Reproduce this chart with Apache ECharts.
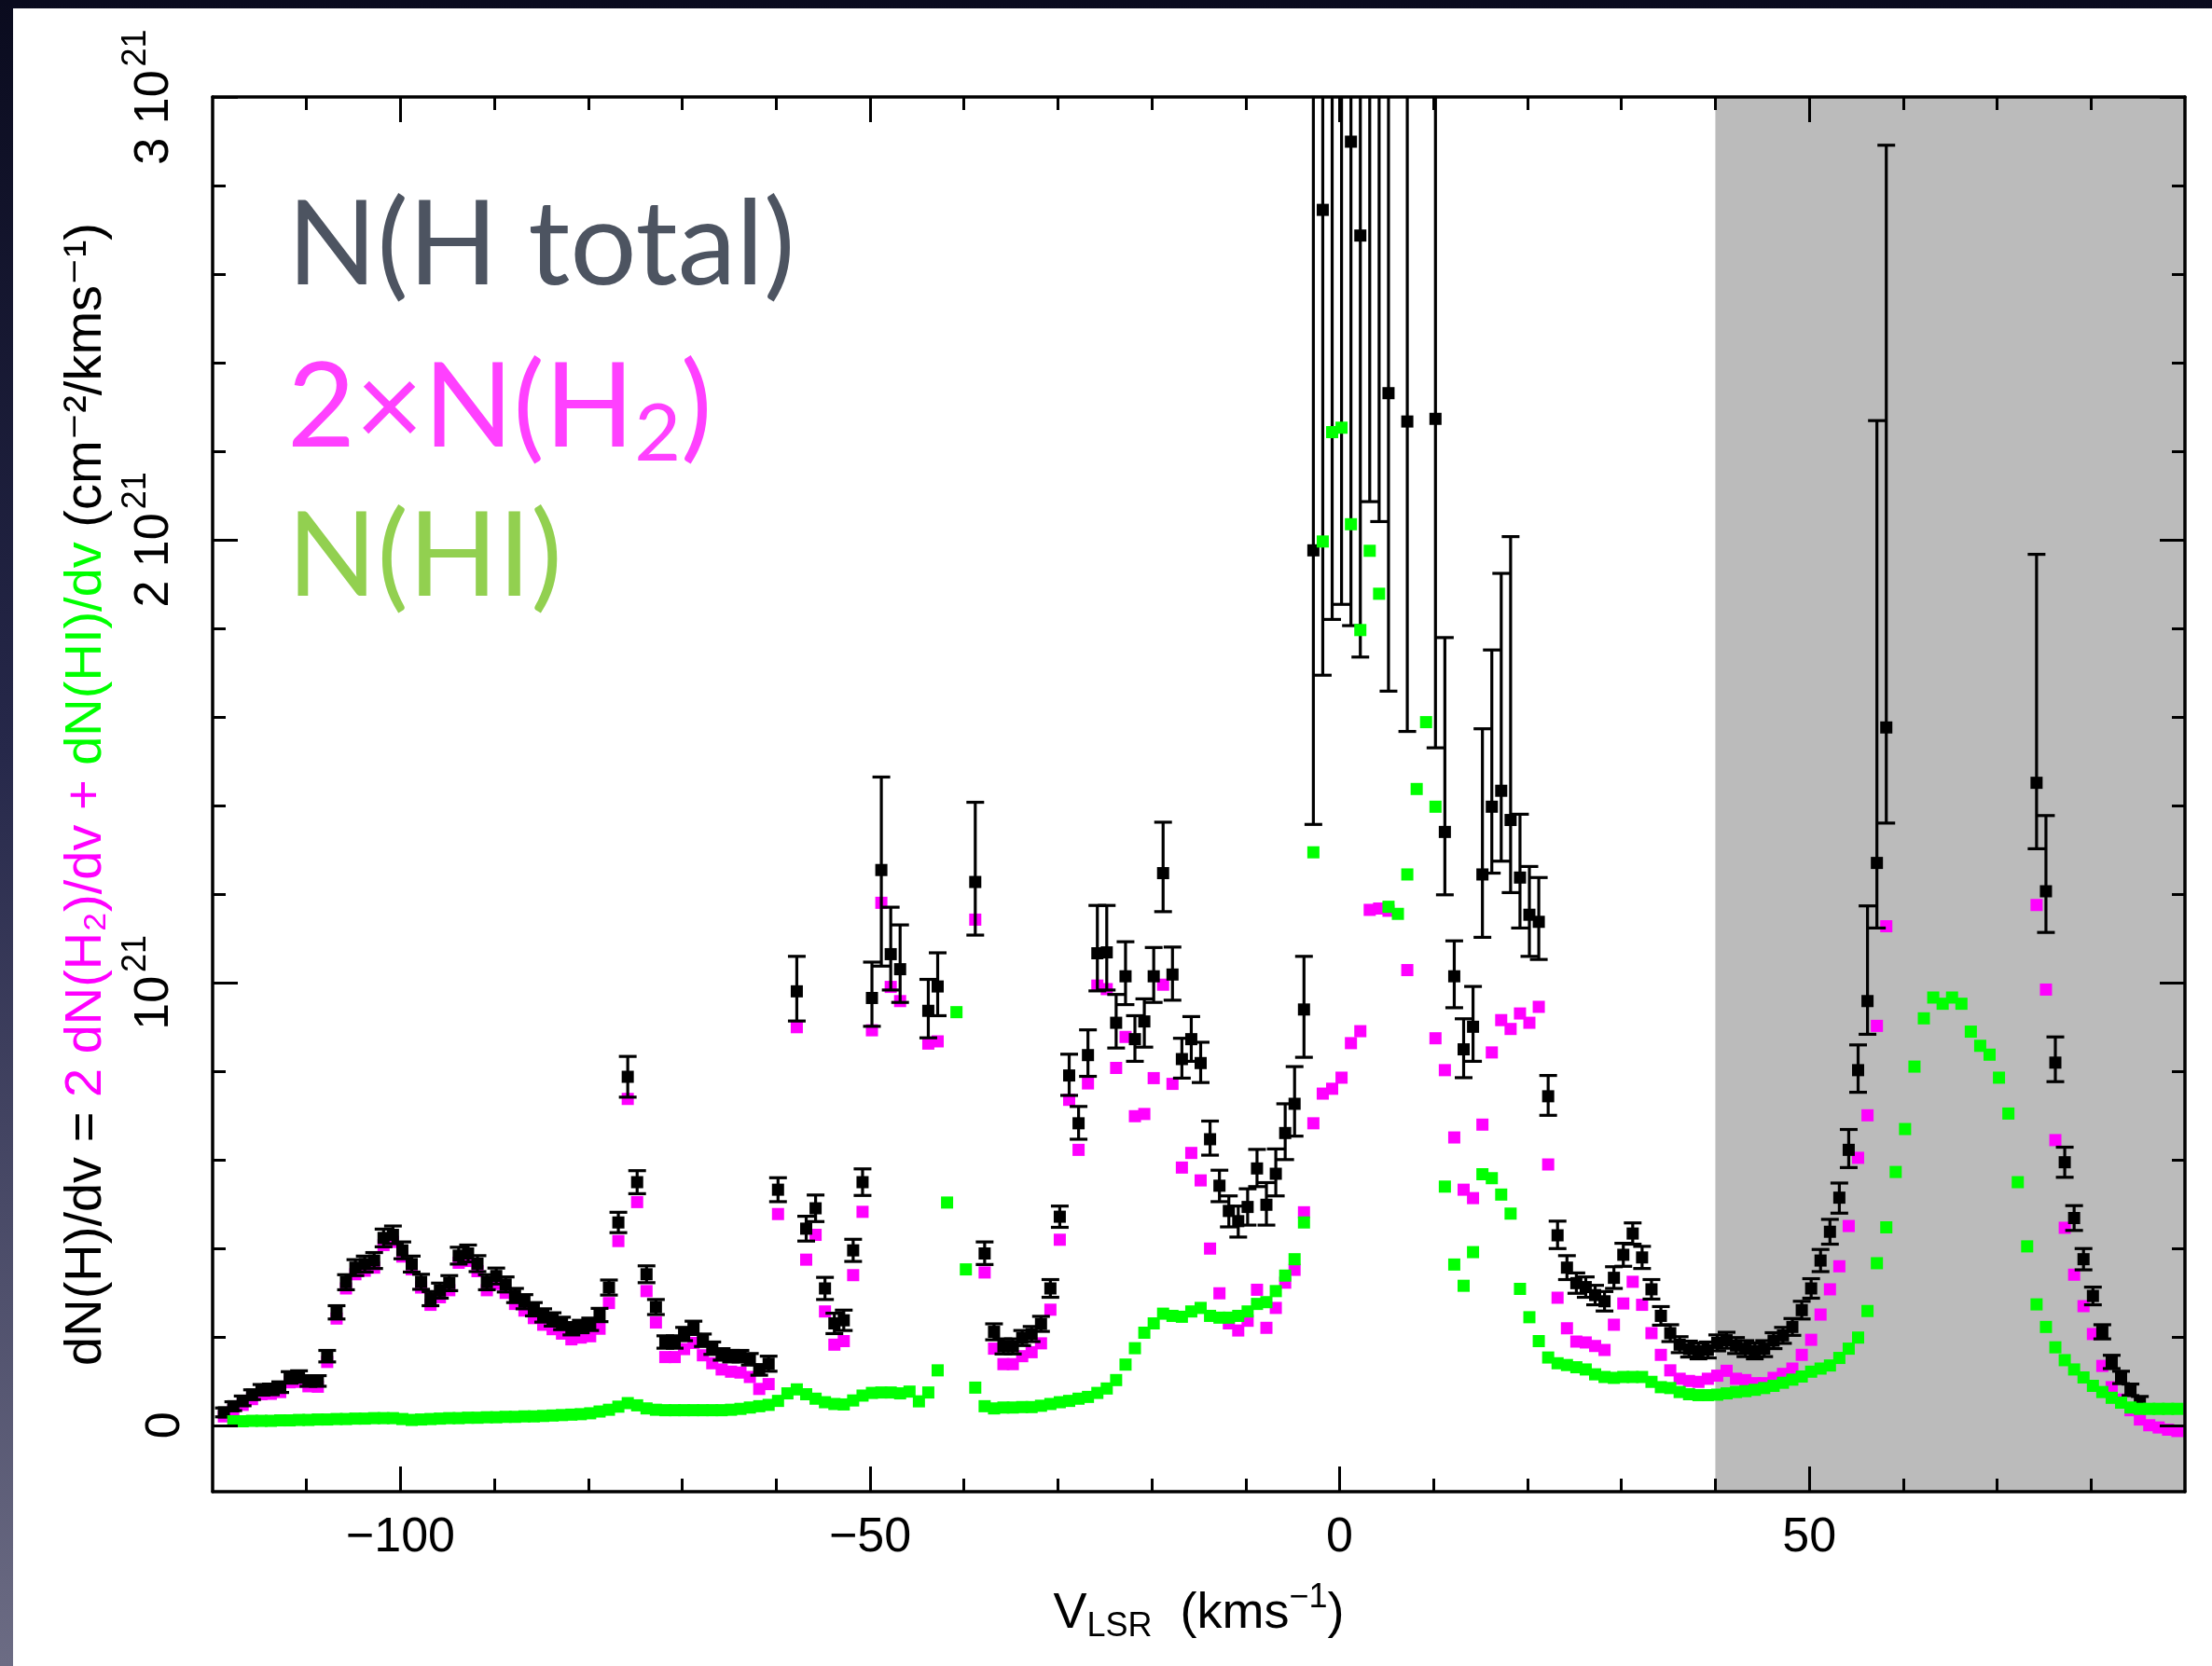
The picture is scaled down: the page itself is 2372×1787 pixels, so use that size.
<!DOCTYPE html>
<html><head><meta charset="utf-8">
<script src="https://cdn.jsdelivr.net/npm/echarts@6/dist/echarts.min.js"></script>
<style>
html,body{margin:0;padding:0;width:2372px;height:1787px;overflow:hidden;}
body{background:linear-gradient(180deg,#0a0b1e 0%,#26284a 45%,#6c6c84 100%);}
#panel{position:absolute;left:14px;top:9px;right:0;bottom:0;background:#ffffff;}
#chart{position:absolute;left:0;top:0;width:2372px;height:1787px;}
</style></head><body><div id="panel"></div><div id="chart"></div>
<script>
// Velocity channels (km/s)
const VEL = [
-118.8,-117.8,-116.8,-115.8,-114.8,-113.8,-112.8,-111.8,-110.8,-109.8,
-108.8,-107.8,-106.8,-105.8,-104.8,-103.8,-102.8,-101.8,-100.8,-99.8,
-98.8,-97.8,-96.8,-95.8,-94.8,-93.8,-92.8,-91.8,-90.8,-89.8,
-88.8,-87.8,-86.8,-85.8,-84.8,-83.8,-82.8,-81.8,-80.8,-79.8,
-78.8,-77.8,-76.8,-75.8,-74.8,-73.8,-72.8,-71.8,-70.8,-69.8,
-68.8,-67.8,-66.8,-65.8,-64.8,-63.8,-62.8,-61.8,-60.8,-59.8,
-58.8,-57.8,-56.8,-55.8,-54.8,-53.8,-52.8,-51.8,-50.8,-49.8,
-48.8,-47.8,-46.8,-45.8,-44.8,-43.8,-42.8,-41.8,-40.8,-39.8,
-38.8,-37.8,-36.8,-35.8,-34.8,-33.8,-32.8,-31.8,-30.8,-29.8,
-28.8,-27.8,-26.8,-25.8,-24.8,-23.8,-22.8,-21.8,-20.8,-19.8,
-18.8,-17.8,-16.8,-15.8,-14.8,-13.8,-12.8,-11.8,-10.8,-9.8,
-8.8,-7.8,-6.8,-5.8,-4.8,-3.8,-2.8,-1.8,-0.8,0.2,
1.2,2.2,3.2,4.2,5.2,6.2,7.2,8.2,9.2,10.2,
11.2,12.2,13.2,14.2,15.2,16.2,17.2,18.2,19.2,20.2,
21.2,22.2,23.2,24.2,25.2,26.2,27.2,28.2,29.2,30.2,
31.2,32.2,33.2,34.2,35.2,36.2,37.2,38.2,39.2,40.2,
41.2,42.2,43.2,44.2,45.2,46.2,47.2,48.2,49.2,50.2,
51.2,52.2,53.2,54.2,55.2,56.2,57.2,58.2,59.2,60.2,
61.2,62.2,63.2,64.2,65.2,66.2,67.2,68.2,69.2,70.2,
71.2,72.2,73.2,74.2,75.2,76.2,77.2,78.2,79.2,80.2,
81.2,82.2,83.2,84.2,85.2,86.2,87.2,88.2,89.2
];
// dN(H)/dv total, units of 1e21 cm^-2/(km/s)
const N_TOTAL = [
0.029,0.043,0.055,0.069,0.080,0.081,0.086,0.108,0.110,0.100,
0.100,0.156,0.255,0.323,0.356,0.364,0.372,0.423,0.430,0.395,
0.364,0.324,0.286,0.304,0.321,0.383,0.388,0.365,0.323,0.337,
0.318,0.293,0.279,0.262,0.248,0.239,0.230,0.218,0.223,0.228,
0.249,0.311,0.458,0.787,0.549,0.341,0.267,0.188,0.188,0.206,
0.220,0.192,0.174,0.160,0.156,0.156,0.149,0.125,0.139,0.532,
null,0.980,0.444,0.490,0.309,0.230,0.237,0.395,0.549,0.965,
1.254,1.064,1.030,null,null,0.936,0.991,null,null,null,
1.227,0.388,0.211,0.178,0.178,0.197,0.206,0.229,0.309,0.471,
0.790,0.682,0.836,1.066,1.068,0.909,1.014,0.872,0.912,1.014,
1.247,1.018,0.827,0.872,0.818,0.646,0.541,0.484,0.461,0.493,
0.580,0.498,0.568,0.660,0.726,0.939,1.976,2.745,3.003,3.038,
2.899,2.687,3.139,3.045,2.331,null,2.267,null,null,2.273,
1.340,1.014,0.849,0.900,1.244,1.397,1.433,1.367,1.237,1.153,
1.137,0.743,0.429,0.356,0.321,0.312,0.294,0.280,0.333,0.385,
0.433,0.379,0.307,0.247,0.208,0.182,0.172,0.168,0.170,0.186,
0.192,0.180,0.173,0.168,0.173,0.191,0.203,0.222,0.260,0.309,
0.372,0.437,0.514,0.622,0.802,0.958,1.270,1.576,null,null,
null,null,null,null,null,null,null,null,null,null,
null,null,null,1.451,1.206,0.819,0.594,0.468,0.375,0.292,
0.211,0.143,0.108,0.080,0.053,null,null,null,null
];
// 2 dN(H2)/dv
const N_H2X2 = [
0.020,0.034,0.046,0.059,0.070,0.071,0.075,0.097,0.098,0.088,
0.087,0.143,0.241,0.309,0.341,0.349,0.356,0.407,0.414,0.381,
0.352,0.311,0.272,0.289,0.305,0.367,0.371,0.348,0.305,0.319,
0.299,0.274,0.259,0.242,0.227,0.217,0.207,0.194,0.198,0.201,
0.218,0.276,0.416,0.737,0.504,0.303,0.232,0.154,0.154,0.172,
0.186,0.158,0.140,0.126,0.121,0.119,0.109,0.082,0.093,0.477,
null,0.899,0.374,0.430,0.257,0.182,0.190,0.339,0.482,0.892,
1.180,0.990,0.958,null,null,0.862,0.867,null,null,null,
1.142,0.345,0.173,0.138,0.138,0.156,0.165,0.185,0.261,0.419,
0.735,0.622,0.772,0.993,0.985,0.807,0.877,0.698,0.703,0.784,
0.995,0.771,0.582,0.615,0.553,0.399,0.298,0.230,0.214,0.236,
0.306,0.220,0.265,0.322,0.351,0.481,0.682,0.749,0.760,0.785,
0.863,0.890,1.164,1.167,1.162,null,1.028,null,null,0.874,
0.802,0.650,0.532,0.513,0.679,0.842,0.915,0.895,0.930,0.909,
0.945,0.589,0.288,0.219,0.189,0.187,0.179,0.170,0.227,0.275,
0.324,0.272,0.208,0.159,0.124,0.105,0.100,0.098,0.105,0.112,
0.123,0.105,0.102,0.095,0.095,0.107,0.116,0.128,0.159,0.193,
0.250,0.307,0.359,0.450,0.604,0.700,0.902,1.127,null,null,
null,null,null,null,null,null,null,null,null,null,
null,null,null,1.175,0.984,0.644,0.446,0.340,0.269,0.206,
0.134,0.086,0.058,0.034,0.013,0.000,-0.005,-0.010,-0.013
];
// dN(HI)/dv
const N_HI = [
null,0.009,0.009,0.010,0.010,0.010,0.011,0.011,0.012,0.012,
0.013,0.013,0.014,0.014,0.015,0.015,0.016,0.016,0.016,0.014,
0.012,0.013,0.014,0.015,0.016,0.016,0.017,0.017,0.018,0.018,
0.019,0.019,0.020,0.020,0.021,0.022,0.023,0.024,0.025,0.027,
0.031,0.035,0.042,0.050,0.045,0.038,0.035,0.034,0.034,0.034,
0.034,0.034,0.034,0.034,0.035,0.037,0.040,0.043,0.046,0.055,
0.072,0.081,0.070,0.060,0.052,0.048,0.047,0.056,0.067,0.073,
0.074,0.074,0.072,0.076,0.054,0.074,0.124,0.503,0.933,0.352,
0.085,0.043,0.038,0.040,0.040,0.041,0.041,0.044,0.048,0.052,
0.055,0.060,0.064,0.073,0.083,0.102,0.137,0.174,0.209,0.230,
0.252,0.247,0.245,0.257,0.265,0.247,0.243,0.243,0.247,0.257,
0.274,0.278,0.303,0.338,0.375,0.458,1.294,1.996,2.243,2.253,
2.035,1.796,1.975,1.878,1.171,1.155,1.244,1.437,1.588,1.397,
0.539,0.363,0.315,0.391,0.567,0.558,0.521,0.478,0.308,0.244,
0.190,0.153,0.140,0.136,0.131,0.126,0.115,0.109,0.107,0.109,
0.109,0.109,0.098,0.086,0.084,0.075,0.070,0.068,0.068,0.069,
0.072,0.075,0.077,0.080,0.084,0.089,0.096,0.103,0.110,0.121,
0.128,0.135,0.152,0.173,0.198,0.258,0.366,0.447,0.572,0.669,
0.810,0.919,0.966,0.952,0.966,0.952,0.889,0.857,0.837,0.785,
0.704,0.549,0.404,0.273,0.222,0.176,0.147,0.126,0.108,0.089,
0.075,0.062,0.051,0.040,0.037,0.037,0.037,0.037,0.037
];
// error bar sizes on the total (below / above)
const ERR_DN = [
0.010,0.010,0.011,0.011,0.012,0.012,0.012,0.013,0.013,0.012,
0.012,0.013,0.015,0.017,0.018,0.018,0.018,0.020,0.020,0.019,
0.018,0.017,0.016,0.017,0.017,0.019,0.019,0.018,0.017,0.018,
0.017,0.016,0.016,0.015,0.015,0.015,0.014,0.014,0.014,0.014,
0.015,0.017,0.023,0.046,0.026,0.019,0.017,0.014,0.014,0.015,
0.015,0.014,0.014,0.013,0.013,0.013,0.013,0.012,0.017,0.027,
null,0.067,0.028,0.030,0.025,0.023,0.023,0.025,0.030,0.064,
0.217,0.081,0.075,null,null,0.061,0.066,null,null,null,
0.120,0.025,0.018,0.017,0.017,0.017,0.017,0.017,0.020,0.024,
0.045,0.036,0.048,0.085,0.085,0.057,0.064,0.050,0.058,0.059,
0.087,0.058,0.043,0.050,0.044,0.036,0.036,0.036,0.036,0.041,
0.041,0.046,0.050,0.060,0.073,0.108,0.619,1.051,1.183,1.184,
1.093,0.952,1.053,1.004,0.673,null,0.700,null,null,0.743,
0.142,0.071,0.064,0.078,0.142,0.150,0.159,0.164,0.114,0.094,
0.085,0.043,0.030,0.027,0.023,0.023,0.022,0.022,0.024,0.026,
0.024,0.025,0.022,0.021,0.019,0.018,0.018,0.018,0.018,0.018,
0.018,0.018,0.018,0.018,0.018,0.018,0.018,0.019,0.020,0.022,
0.025,0.028,0.035,0.040,0.050,0.075,0.147,0.216,null,null,
null,null,null,null,null,null,null,null,null,null,
null,null,null,0.149,0.093,0.043,0.034,0.028,0.024,0.020,
0.016,0.015,0.014,0.013,0.012,null,null,null,null
];
const ERR_UP = [
0.010,0.010,0.011,0.011,0.012,0.012,0.012,0.013,0.013,0.012,
0.012,0.013,0.015,0.017,0.018,0.018,0.018,0.020,0.020,0.019,
0.018,0.017,0.016,0.017,0.017,0.019,0.019,0.018,0.017,0.018,
0.017,0.016,0.016,0.015,0.015,0.015,0.014,0.014,0.014,0.014,
0.015,0.017,0.023,0.046,0.026,0.019,0.017,0.014,0.014,0.015,
0.015,0.014,0.014,0.013,0.013,0.013,0.013,0.012,0.017,0.027,
null,0.079,0.028,0.030,0.025,0.023,0.023,0.025,0.030,0.081,
0.210,0.106,0.100,null,null,0.071,0.076,null,null,null,
0.180,0.026,0.018,0.017,0.017,0.017,0.017,0.017,0.020,0.024,
0.048,0.038,0.057,0.108,0.106,0.064,0.078,0.053,0.051,0.065,
0.115,0.062,0.047,0.051,0.047,0.041,0.035,0.034,0.034,0.041,
0.043,0.050,0.056,0.066,0.084,0.120,1.300,1.000,1.000,1.000,
1.000,1.000,1.000,1.000,1.000,null,1.000,null,null,1.000,
0.439,0.080,0.069,0.091,0.329,0.354,0.491,0.640,0.143,0.109,
0.100,0.047,0.032,0.027,0.023,0.023,0.022,0.022,0.025,0.026,
0.024,0.025,0.022,0.021,0.019,0.018,0.018,0.018,0.018,0.018,
0.018,0.018,0.018,0.018,0.018,0.018,0.018,0.019,0.020,0.022,
0.025,0.028,0.033,0.046,0.057,0.215,0.999,1.315,null,null,
null,null,null,null,null,null,null,null,null,null,
null,null,null,0.516,0.171,0.058,0.034,0.028,0.024,0.020,
0.016,0.015,0.014,0.013,0.012,null,null,null,null
];
const X_MINOR_TICKS = [-110,-100,-90,-80,-70,-60,-50,-40,-30,-20,-10,0,10,20,30,40,50,60,70,80];
const X_MAJOR_TICKS = [-100,-50,0,50];
const X_TICK_LABELS = ['\u2212100','\u221250','0','50'];
const Y_MINOR_TICKS = [0,0.2,0.4,0.6,0.8,1,1.2,1.4,1.6,1.8,2,2.2,2.4,2.6,2.8];
const Y_MAJOR_TICKS = [0,1,2,3];
const Y_TICK_LABELS = ['{a|0}','{a|10}{s|21}','{a|2 10}{s|21}','{a|3 10}{s|21}'];
const SHADED_RANGE = [40, 90];

const FONT = "'Liberation Sans','DejaVu Sans',sans-serif";
const ptsB = [], ptsM = [], ptsG = [], errs = [];
VEL.forEach((v, i) => {
  if (N_TOTAL[i] != null) {
    ptsB.push([v, N_TOTAL[i]]);
    errs.push([v, N_TOTAL[i] - ERR_DN[i], N_TOTAL[i] + ERR_UP[i]]);
  }
  if (N_H2X2[i] != null) ptsM.push([v, N_H2X2[i]]);
  if (N_HI[i] != null) ptsG.push([v, N_HI[i]]);
});

const chart = echarts.init(document.getElementById('chart'), null, {renderer: 'canvas'});
const XMIN = -120, XMAX = 90, YMIN = -0.15, YMAX = 3.0;
function xAx(pos, ticks, len, showLine, labels) {
  return {
    type: 'value', position: pos, min: XMIN, max: XMAX, z: 10,
    axisLine: {show: showLine, onZero: false, lineStyle: {color: '#000', width: 3.5}},
    axisTick: {show: true, inside: true, length: len, customValues: ticks, lineStyle: {color: '#000', width: 3}},
    axisLabel: labels ? {show: true, customValues: X_MAJOR_TICKS, margin: 24, color: '#000', fontSize: 52, fontFamily: FONT,
      formatter: v => X_TICK_LABELS[X_MAJOR_TICKS.indexOf(v)]} : {show: false},
    splitLine: {show: false}
  };
}
function yAx(pos, ticks, len, showLine, labels) {
  return {
    type: 'value', position: pos, min: YMIN, max: YMAX, z: 10,
    axisLine: {show: showLine, onZero: false, lineStyle: {color: '#000', width: 3.5}},
    axisTick: {show: true, inside: true, length: len, customValues: ticks, lineStyle: {color: '#000', width: 3}},
    axisLabel: labels ? {show: true, customValues: Y_MAJOR_TICKS, rotate: 90, margin: 24, color: '#000', fontSize: 52, fontFamily: FONT,
      rich: {a: {fontFamily: FONT, fontSize: 52, color: '#000'},
             s: {fontFamily: FONT, fontSize: 36, color: '#000', padding: [0, 0, 40, 4]}},
      formatter: v => Y_TICK_LABELS[Y_MAJOR_TICKS.indexOf(v)]} : {show: false},
    splitLine: {show: false}
  };
}
const xBottom = xAx('bottom', X_MINOR_TICKS, 14, true, true);
xBottom.name = '{n|V}{s|LSR}{n|  (kms}{p|\u22121}{n|)}';
xBottom.nameLocation = 'middle';
xBottom.nameGap = 96;
xBottom.nameTextStyle = {fontFamily: FONT, fontSize: 54, color: '#000', rich: {
  n: {fontFamily: FONT, fontSize: 54, color: '#000'},
  s: {fontFamily: FONT, fontSize: 36, color: '#000', padding: [28, 0, 0, 0]},
  p: {fontFamily: FONT, fontSize: 36, color: '#000', padding: [0, 0, 34, 0]}
}};
const yLeft = yAx('left', Y_MINOR_TICKS, 14, true, true);
yLeft.name = '{k|dN(H)/dv = }{m|2 dN(H\u2082)/dv + }{g|dN(HI)/dv}{k| (cm\u207b\u00b2/kms\u207b\u00b9)}';
yLeft.nameLocation = 'middle';
yLeft.nameRotate = 90;
yLeft.nameGap = 98;
yLeft.nameTextStyle = {fontFamily: FONT, fontSize: 56, rich: {
  k: {fontFamily: FONT, fontSize: 56, color: '#000'},
  m: {fontFamily: FONT, fontSize: 56, color: '#ff00ff'},
  g: {fontFamily: FONT, fontSize: 56, color: '#00ff00'}
}};

const LEG_FONT = "Lato,'Open Sans','Noto Sans',sans-serif";
const option = {
  animation: false,
  backgroundColor: 'transparent',
  grid: {left: 228, top: 104, width: 2115, height: 1496, containLabel: false, outerBoundsMode: 'none'},
  title: [
    {text: 'N(H total)', left: 303, top: 196, textStyle: {fontFamily: LEG_FONT, fontSize: 126, fontWeight: 'normal', color: '#4d5461'}},
    {text: '2\u00d7N(H{s|2})', left: 303, top: 362, textStyle: {fontFamily: LEG_FONT, fontSize: 126, fontWeight: 'normal', color: '#ff40ff',
      rich: {s: {fontFamily: LEG_FONT, fontSize: 86, color: '#ff40ff', padding: [56, 0, 0, 0]}}}},
    {text: 'N(HI)', left: 303, top: 530, textStyle: {fontFamily: LEG_FONT, fontSize: 126, fontWeight: 'normal', color: '#92d050'}}
  ],
  xAxis: [
    xBottom,
    xAx('top', X_MINOR_TICKS, 14, true, false),
    xAx('bottom', X_MAJOR_TICKS, 27, false, false),
    xAx('top', X_MAJOR_TICKS, 27, false, false)
  ],
  yAxis: [
    yLeft,
    yAx('right', Y_MINOR_TICKS, 14, true, false),
    yAx('left', Y_MAJOR_TICKS, 27, false, false),
    yAx('right', Y_MAJOR_TICKS, 27, false, false)
  ],
  series: [
    {type: 'scatter', data: [], z: 1, silent: true,
     markArea: {silent: true, itemStyle: {color: '#bbbbbb', opacity: 1}, data: [[{xAxis: SHADED_RANGE[0]}, {xAxis: SHADED_RANGE[1]}]]}},
    {name: '2N(H2)', type: 'scatter', data: ptsM, symbol: 'rect', symbolSize: 13, z: 2, clip: true,
     itemStyle: {color: '#ff00ff', opacity: 1}},
    {name: 'errors', type: 'custom', data: errs, z: 3, clip: true, encode: {x: 0, y: [1, 2]},
     renderItem: function (params, api) {
       const x = api.value(0), lo = api.value(1), hi = api.value(2);
       const p1 = api.coord([x, lo]), p2 = api.coord([x, hi]);
       const hw = 9.5;
       const st = {stroke: '#000', lineWidth: 3.2};
       return {type: 'group', children: [
         {type: 'line', shape: {x1: p1[0], y1: p1[1], x2: p2[0], y2: p2[1]}, style: st},
         {type: 'line', shape: {x1: p1[0] - hw, y1: p1[1], x2: p1[0] + hw, y2: p1[1]}, style: st},
         {type: 'line', shape: {x1: p2[0] - hw, y1: p2[1], x2: p2[0] + hw, y2: p2[1]}, style: st}
       ]};
     }},
    {name: 'N(H total)', type: 'scatter', data: ptsB, symbol: 'rect', symbolSize: 13, z: 3, clip: true,
     itemStyle: {color: '#000000', opacity: 1}},
    {name: 'N(HI)', type: 'scatter', data: ptsG, symbol: 'rect', symbolSize: 13, z: 4, clip: true,
     itemStyle: {color: '#00ff00', opacity: 1}}
  ]
};
chart.setOption(option);
</script></body></html>
